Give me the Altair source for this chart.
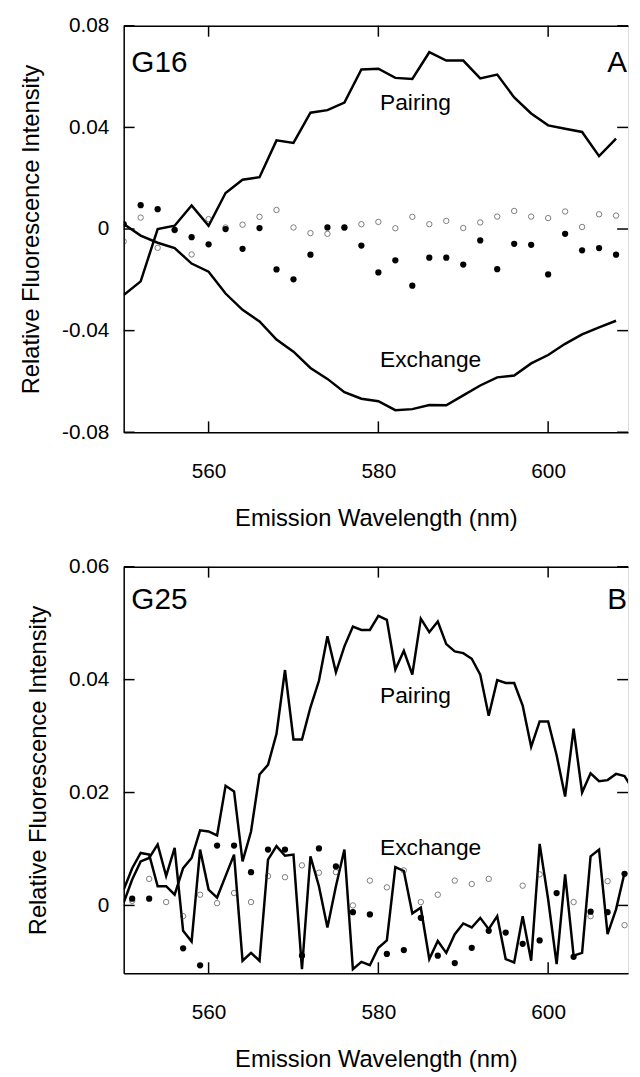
import altair as alt
import pandas as pd

# ---------------- Panel A (G16) ----------------
wl_a = list(range(550, 610, 2))
pairing_a = [-0.026, -0.0206, 0.0000, 0.0013, 0.0093, 0.0013, 0.0142, 0.0194, 0.0204, 0.0349,
             0.0339, 0.0458, 0.0468, 0.0498, 0.0628, 0.0631, 0.0595, 0.0591, 0.0696, 0.0663,
             0.0663, 0.0593, 0.0608, 0.0518, 0.0455, 0.0408, 0.0395, 0.0382, 0.0287, 0.0356]
exchange_a = [0.0020, -0.0026, -0.0054, -0.0075, -0.0136, -0.0168, -0.0254, -0.0318, -0.0364, -0.0435,
              -0.0483, -0.0547, -0.0590, -0.0642, -0.0668, -0.0678, -0.0713, -0.0709, -0.0693, -0.0694,
              -0.0655, -0.0616, -0.0584, -0.0577, -0.0529, -0.0496, -0.0452, -0.0415, -0.0387, -0.0361]
filled_a = [0.0019, 0.0094, 0.0078, -0.0003, -0.0032, -0.0060, 0.0000, -0.0078, 0.0004, -0.0159,
            -0.0198, -0.0101, 0.0006, 0.0006, -0.0065, -0.0171, -0.0123, -0.0223, -0.0113, -0.0113,
            -0.0140, -0.0045, -0.0158, -0.0058, -0.0062, -0.0179, -0.0019, -0.0084, -0.0075, -0.0101]
open_a = [-0.0049, 0.0045, -0.0074, -0.0005, -0.0100, 0.0039, 0.0006, 0.0017, 0.0048, 0.0075,
          0.0006, -0.0016, -0.0019, 0.0005, 0.0019, 0.0028, 0.0003, 0.0048, 0.0019, 0.0032,
          0.0004, 0.0026, 0.0049, 0.0071, 0.0049, 0.0043, 0.0069, 0.0008, 0.0058, 0.0053]
yticks_a = [-0.08, -0.04, 0, 0.04, 0.08]

# ---------------- Panel B (G25) ----------------
wl_b = list(range(550, 611))
pairing_b = [0.0028, 0.0066, 0.0093, 0.0090, 0.0034, 0.0034, 0.0019, 0.0066, 0.0084, 0.0133,
             0.0131, 0.0124, 0.0212, 0.0202, 0.0078, 0.0131, 0.0232, 0.0249, 0.0304, 0.0417,
             0.0294, 0.0294, 0.0351, 0.0398, 0.0477, 0.0413, 0.0459, 0.0494, 0.0488, 0.0488,
             0.0513, 0.0506, 0.0418, 0.0451, 0.0409, 0.0508, 0.0484, 0.0503, 0.0463, 0.0450,
             0.0447, 0.0437, 0.0409, 0.0336, 0.0399, 0.0394, 0.0394, 0.0354, 0.0281, 0.0326,
             0.0326, 0.0266, 0.0193, 0.0313, 0.0200, 0.0234, 0.0220, 0.0222, 0.0233, 0.0229,
             0.0205]
exchange_b = [0.0005, 0.0046, 0.0078, 0.0084, 0.0108, 0.0052, 0.0102, -0.0045, -0.0064, 0.0099,
              0.0028, 0.0014, 0.0052, 0.0090, -0.0098, -0.0084, -0.0098, 0.0081, 0.0105, 0.0088,
              0.0090, -0.0113, 0.0087, 0.0034, -0.0039, 0.0034, 0.0099, -0.0113, -0.0100, -0.0106,
              -0.0075, -0.0062, 0.0068, 0.0061, -0.0014, -0.0004, -0.0095, -0.0063, -0.0084, -0.0051,
              -0.0032, -0.0039, -0.0022, -0.0042, -0.0019, -0.0095, -0.0101, -0.0019, -0.0098, 0.0109,
              0.0011, -0.0104, 0.0055, -0.0089, -0.0084, 0.0087, 0.0099, -0.0051, -0.0007, 0.0058,
              None]
wl_b_dots = list(range(551, 610, 2))
filled_b = [0.0012, 0.0012, None, -0.0076, -0.0106, 0.0106, 0.0106, 0.0059, 0.0099, 0.0099,
            -0.0089, 0.0101, 0.0069, -0.0012, -0.0016, -0.0086, -0.0079, -0.0022, -0.0089, -0.0102,
            -0.0075, -0.0045, -0.0048, -0.0068, -0.0062, 0.0022, -0.0091, -0.0011, -0.0012, 0.0056]
open_b = [0.0008, 0.0047, 0.0006, -0.0019, 0.0019, 0.0004, 0.0022, 0.0006, 0.0052, 0.0050,
          0.0071, 0.0058, 0.0059, 0.0000, 0.0044, 0.0032, 0.0062, 0.0006, 0.0019, 0.0044,
          0.0038, 0.0047, None, 0.0035, 0.0055, None, 0.0006, -0.0019, 0.0043, -0.0035]
yticks_b = [0, 0.02, 0.04, 0.06]

xticks = [560, 580, 600]

FONT = "Liberation Sans"
W, H = 510, 411
X_END = 550 + W / 8.584   # the figure is cut at its right edge, just before 610 nm
TICK = 11
# inward tick glyphs (custom symbol paths in the -1..1 box, scaled to sqrt(size) px)
SH_LEFT, SH_RIGHT = "M0,0L2,0", "M0,0L-2,0"
SH_TOP, SH_BOTTOM = "M0,0L0,2", "M0,0L0,-2"


def lines_df(wl, pairing, exchange):
    rows = []
    for w, p in zip(wl, pairing):
        rows.append({"wl": w, "v": p, "series": "Pairing"})
    for w, e in zip(wl, exchange):
        if e is not None:
            rows.append({"wl": w, "v": e, "series": "Exchange"})
    return pd.DataFrame(rows)


def pts_df(wl, vals):
    return pd.DataFrame([{"wl": w, "v": v} for w, v in zip(wl, vals) if v is not None])


def panel(ldf, fdf, odf, ydom, yvals, tag, letter, tag_y, pair_xy, exch_xy):
    xs = alt.Scale(domain=[550, X_END], nice=False, zero=False)
    ys = alt.Scale(domain=ydom, nice=False, zero=False)
    ax_bottom = alt.Axis(orient="bottom", values=xticks, ticks=False,
                         domain=True, domainColor="black", domainWidth=1.5, grid=False,
                         labelFont=FONT, labelFontSize=21, labelColor="black", labelPadding=29,
                         title="Emission Wavelength (nm)", titleFont=FONT, titleFontSize=24,
                         titleFontWeight="normal", titleColor="black", titlePadding=25)
    ax_left = alt.Axis(orient="left", values=yvals, format="~g", ticks=False,
                       domain=True, domainColor="black", domainWidth=1.5, grid=False,
                       labelFont=FONT, labelFontSize=21, labelColor="black", labelPadding=15,
                       title="Relative Fluorescence Intensity", titleFont=FONT, titleFontSize=24,
                       titleFontWeight="normal", titleColor="black", titlePadding=18)
    ax_top = alt.Axis(orient="top", ticks=False, labels=False, title=None, grid=False,
                      domain=True, domainColor="black", domainWidth=1.5)
    ax_right = alt.Axis(orient="right", ticks=False, labels=False, title=None, grid=False,
                        domain=False)

    lines = alt.Chart(ldf).mark_line(color="black", strokeWidth=2.5, clip=True).encode(
        x=alt.X("wl:Q", scale=xs, axis=ax_bottom),
        y=alt.Y("v:Q", scale=ys, axis=ax_left),
        detail="series:N",
    )
    opens = alt.Chart(odf).mark_point(shape="circle", filled=False, color="#333333",
                                      strokeWidth=0.9, size=30, clip=True).encode(
        x=alt.X("wl:Q", scale=xs, axis=ax_top),
        y=alt.Y("v:Q", scale=ys, axis=ax_right),
    )
    filled = alt.Chart(fdf).mark_point(shape="circle", filled=True, color="black",
                                       opacity=1, size=40, clip=True).encode(
        x=alt.X("wl:Q", scale=xs, axis=None),
        y=alt.Y("v:Q", scale=ys, axis=None),
    )

    # tick positions use the same field names as the data layers
    xt = pd.DataFrame({"wl": xticks, "v": [ydom[0]] * len(xticks)})
    xt_top = pd.DataFrame({"wl": xticks, "v": [ydom[1]] * len(xticks)})
    yt = pd.DataFrame({"wl": [550] * len(yvals), "v": yvals})
    yt_right = pd.DataFrame({"wl": [X_END] * len(yvals), "v": yvals})

    def tick_layer(df, shape):
        return alt.Chart(df).mark_point(shape=shape, filled=False, color="black", strokeWidth=1.5,
                                        size=TICK * TICK, opacity=1).encode(
            x=alt.X("wl:Q", scale=xs, axis=None),
            y=alt.Y("v:Q", scale=ys, axis=None))

    ticks = [tick_layer(xt, SH_BOTTOM), tick_layer(xt_top, SH_TOP),
             tick_layer(yt, SH_LEFT), tick_layer(yt_right, SH_RIGHT)]

    base = alt.Chart(pd.DataFrame({"k": [0]}))

    def txt(s, size, align, xv, yv):
        return base.mark_text(text=s, font=FONT, fontSize=size, align=align, baseline="alphabetic",
                              color="black").encode(
            x=alt.X(datum=xv, scale=xs, axis=None),
            y=alt.Y(datum=yv, scale=ys, axis=None))

    t_tag = txt(tag, 30, "left", 550.9, tag_y)
    t_let = txt(letter, 30, "right", 609.3, tag_y)
    t_pair = txt("Pairing", 23, "left", pair_xy[0], pair_xy[1])
    t_exch = txt("Exchange", 23, "left", exch_xy[0], exch_xy[1])
    return alt.layer(lines, opens, filled, *ticks,
                     t_tag, t_let, t_pair, t_exch).properties(width=W, height=H).resolve_axis(
        x="independent", y="independent")


pA = panel(lines_df(wl_a, pairing_a, exchange_a), pts_df(wl_a, filled_a), pts_df(wl_a, open_a),
           [-0.08, 0.08], yticks_a, "G16", "A", 0.0617,
           (580.2, 0.047), (580.2, -0.0543))
pB = panel(lines_df(wl_b, pairing_b, exchange_b), pts_df(wl_b_dots, filled_b), pts_df(wl_b_dots, open_b),
           [-0.012, 0.06], yticks_b, "G25", "B", 0.0525,
           (580.2, 0.0359), (580.2, 0.0090))

chart = alt.vconcat(pA, pB, spacing=24).properties(
    padding={"left": 11, "top": 0, "right": 0, "bottom": 0}
).configure_view(stroke=None).configure(
    locale=alt.Locale(number=alt.NumberLocale(decimal=".", thousands=",", grouping=[3],
                                              currency=["", ""], minus="-"))
)

chart.save("out.html", embed_options={"renderer": "svg", "actions": False})
